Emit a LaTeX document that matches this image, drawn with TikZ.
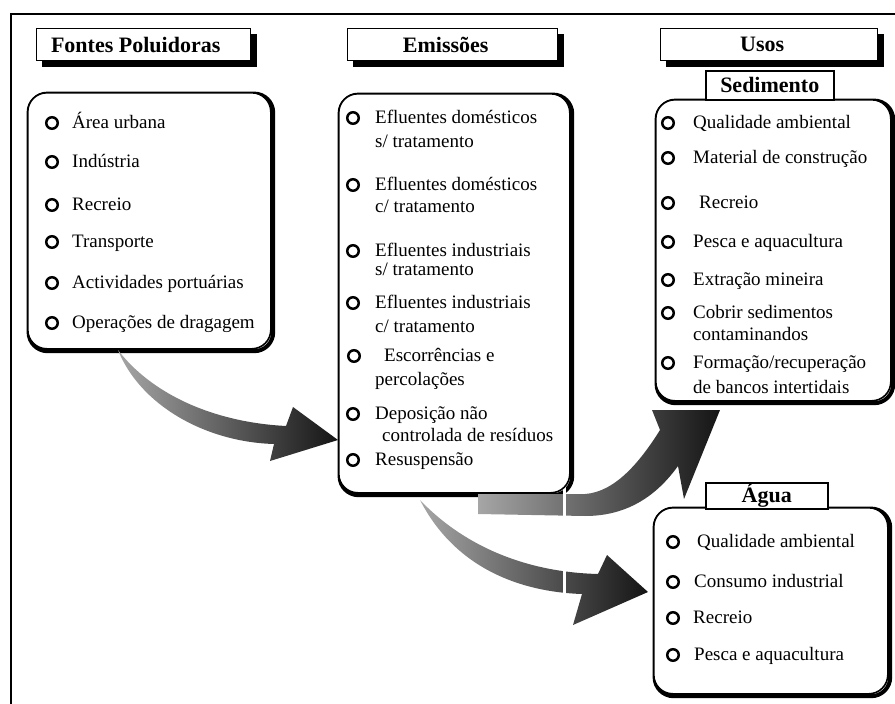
\documentclass[tikz,border=0pt]{standalone}
\usepackage{fontspec}
\setmainfont{Liberation Serif}
\usetikzlibrary{backgrounds}

% bullet item: name, circle x, text x, centre y, text
\newcommand\bulitem[5]{%
  \node[bul] (#1o) at (#2,#4) {};
  \node[txt] (#1) at (#3,#4+5) {#5};}
% continuation line of an item: name, x, centre y, text
\newcommand\contline[4]{%
  \node[txt] (#1) at (#2,#3+5) {#4};}

\begin{document}
\begin{tikzpicture}[x=1pt,y=-1pt,
  txt/.style={font=\fontsize{19}{22}\selectfont, inner sep=0pt, anchor=base west},
  hdfont/.style={font=\fontsize{22}{26}\selectfont\bfseries},
  bul/.style={circle, draw, line width=2.5pt, minimum size=11.5pt, inner sep=0pt},
  panel/.style={draw, line width=1.6pt, fill=white, rounded corners=19pt,
    anchor=north west, inner sep=0pt},
  panelshadow/.style={draw, line width=4pt, rounded corners=19pt},
  hdbox/.style={hdfont, draw, line width=1.4pt, fill=white, anchor=north west,
    inner sep=0pt, minimum height=32pt},
  tabbox/.style={hdfont, draw, line width=1.5pt, fill=white, anchor=north west,
    inner sep=0pt},
  arrowfill/.style={left color=black!35, right color=black!92, draw=none},
]
\useasboundingbox (0,0) rectangle (895,704);

% frame
\draw[line width=1.8pt] (895,14) -- (11,14) -- (11,704);

% column headers
\node[hdbox, minimum width=214pt] (hfontes) at (36,28) {Fontes Poluidoras\hspace*{16pt}};
\node[hdbox, minimum width=210pt] (hemis) at (347,28) {Emissões\hspace*{14pt}};
\node[hdbox, minimum width=217pt] (husos) at (660,28) {Usos\hspace*{14pt}};

% panels
\node[panel, minimum width=243pt, minimum height=256pt] (fontes) at (27,92) {};
\node[panel, minimum width=231pt, minimum height=399pt] (emis) at (338,93) {};
\node[panel, minimum width=235pt, minimum height=301pt] (sed) at (655,99) {};
\node[panel, minimum width=234pt, minimum height=186pt] (agua) at (653,507) {};

% panel tabs
\node[tabbox, minimum width=128pt, minimum height=29pt] (tsed) at (705,70) {Sedimento};
\node[tabbox, minimum width=122pt, minimum height=26pt] (tagua) at (705,482) {Água};

% shadows and arrows behind the boxes
\begin{pgfonlayer}{background}
  \foreach \h in {hfontes,hemis,husos}
    \fill ([shift={(6,6)}]\h.north west) rectangle ([shift={(6,6)}]\h.south east);
  \foreach \p in {fontes,emis,sed,agua}
    \draw[panelshadow] ([shift={(1.6,1.6)}]\p.north west) rectangle ([shift={(1.6,1.6)}]\p.south east);

  % sources -> emissions
  \coordinate (a1s) at (118,350);
  \coordinate (a1t) at (emis.west |- 0,440);
  \path[arrowfill] (a1s) .. controls (150,392) and (210,422) .. (286,426)
    -- (293,407) -- (a1t) -- (270,461) -- (274,444)
    .. controls (205,442) and (140,405) .. (a1s) -- cycle;

  % emissions -> sediment
  \coordinate (a2s) at (478,494);
  \coordinate (a2t) at (720,410);
  \path[arrowfill] (a2s) -- (585,494) .. controls (615,492) and (640,462) .. (660,430)
    -- (652,410) -- (a2t) -- (684,499) -- (678,466)
    .. controls (655,498) and (625,516) .. (585,516) -- (478,514) -- cycle;

  % emissions -> water
  \coordinate (a3s) at (420,500);
  \coordinate (a3t) at (648,592);
  \path[arrowfill] (a3s) .. controls (460,542) and (520,572) .. (598,574)
    -- (607,555) -- (a3t) -- (573,625) -- (582,594)
    .. controls (520,592) and (455,568) .. (a3s) -- cycle;

  \fill[white] (563,480) rectangle (566,630);
\end{pgfonlayer}

% sources
\bulitem{f1}{52}{72}{123}{Área urbana}
\bulitem{f2}{52}{72}{162}{Indústria}
\bulitem{f3}{52}{72}{205}{Recreio}
\bulitem{f4}{52}{72}{242}{Transporte}
\bulitem{f5}{52}{72}{283}{Actividades portuárias}
\bulitem{f6}{52}{72}{323}{Operações de dragagem}

% emissions
\bulitem{e1}{353}{375}{118}{Efluentes domésticos}
\contline{e1b}{375}{142}{s/ tratamento}
\bulitem{e2}{353}{375}{185}{Efluentes domésticos}
\contline{e2b}{375}{207}{c/ tratamento}
\bulitem{e3}{353}{375}{251}{Efluentes industriais}
\contline{e3b}{375}{270}{s/ tratamento}
\bulitem{e4}{353}{375}{303}{Efluentes industriais}
\contline{e4b}{375}{327}{c/ tratamento}
\bulitem{e5}{354}{384}{356}{Escorrências e}
\contline{e5b}{375}{380}{percolações}
\bulitem{e6}{353}{375}{414}{Deposição não}
\contline{e6b}{382}{436}{controlada de resíduos}
\bulitem{e7}{353}{375}{460}{Resuspensão}

% sediment uses
\bulitem{s1}{668}{693}{123}{Qualidade ambiental}
\bulitem{s2}{668}{693}{158}{Material de construção}
\bulitem{s3}{668}{699}{203}{Recreio}
\bulitem{s4}{668}{693}{242}{Pesca e aquacultura}
\bulitem{s5}{668}{693}{280}{Extração mineira}
\bulitem{s6}{668}{693}{313}{Cobrir sedimentos}
\contline{s6b}{693}{335}{contaminandos}
\bulitem{s7}{668}{693}{363}{Formação/recuperação}
\contline{s7b}{693}{388}{de bancos intertidais}

% water uses
\bulitem{w1}{673}{697}{542}{Qualidade ambiental}
\bulitem{w2}{673}{694}{582}{Consumo industrial}
\bulitem{w3}{673}{693}{618}{Recreio}
\bulitem{w4}{673}{694}{655}{Pesca e aquacultura}
\end{tikzpicture}
\end{document}
